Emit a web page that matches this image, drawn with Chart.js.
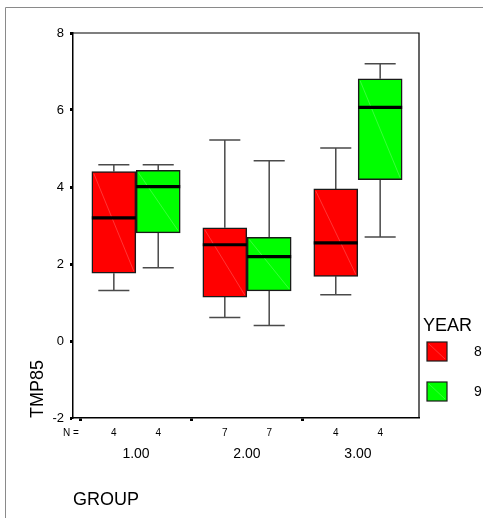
<!DOCTYPE html>
<html>
<head>
<meta charset="utf-8">
<script src="https://cdn.jsdelivr.net/npm/chart.js@4"></script>
<style>
html,body{margin:0;padding:0;background:#fff;}
canvas{display:block;}
</style>
</head>
<body>
<canvas id="c" width="483" height="518"></canvas>
<script>
// ---- data ----
const groups = [1, 2, 3];
const groupLabels = ['1.00', '2.00', '3.00'];
const yearLabels = ['8', '9'];
const yTicks = [-2, 0, 2, 4, 6, 8];

const min8 = [1.31, 0.61, 1.20];
const q1_8 = [1.76, 1.14, 1.68];
const med8 = [3.20, 2.50, 2.55];
const q3_8 = [4.40, 2.94, 3.95];
const max8 = [4.58, 5.22, 5.01];
const n8   = [4, 7, 4];

const min9 = [1.90, 0.40, 2.70];
const q1_9 = [2.81, 1.30, 4.19];
const med9 = [4.01, 2.19, 6.07];
const q3_9 = [4.43, 2.69, 6.81];
const max9 = [4.58, 4.68, 7.20];
const n9   = [4, 7, 4];

const OFF = 0.2;      // box offset from group centre (x units)
const CAP = 0.14;     // whisker cap half width (x units)
const FONT = "'Liberation Sans', Arial, sans-serif";

const series = [
  {label: yearLabels[0], color: '#ff0000', diag: 'rgba(255,170,170,0.45)', dx: -OFF, min: min8, q1: q1_8, med: med8, q3: q3_8, max: max8, n: n8},
  {label: yearLabels[1], color: '#00ff00', diag: 'rgba(180,255,180,0.45)', dx: OFF, min: min9, q1: q1_9, med: med9, q3: q3_9, max: max9, n: n9}
];

const datasets = series.map(s => ({
  label: s.label,
  data: groups.map((g, i) => ({x: g + s.dx, y: [s.q1[i], s.q3[i]]})),
  backgroundColor: s.color,
  borderColor: '#1a1a1a',
  borderWidth: 1.5,
  borderSkipped: false,
  barThickness: 44,
  grouped: false
}));

const boxPlugin = {
  id: 'boxParts',
  beforeDatasetsDraw(chart) {
    const ctx = chart.ctx, xs = chart.scales.x, ys = chart.scales.y;
    ctx.save();
    ctx.strokeStyle = '#4a4a4a';
    ctx.lineWidth = 1.5;
    series.forEach(s => {
      groups.forEach((g, i) => {
        const cx = xs.getPixelForValue(g + s.dx);
        const cl = xs.getPixelForValue(g + s.dx - CAP);
        const cr = xs.getPixelForValue(g + s.dx + CAP);
        const yMin = ys.getPixelForValue(s.min[i]);
        const yQ1 = ys.getPixelForValue(s.q1[i]);
        const yQ3 = ys.getPixelForValue(s.q3[i]);
        const yMax = ys.getPixelForValue(s.max[i]);
        ctx.beginPath();
        ctx.moveTo(cx, yQ1); ctx.lineTo(cx, yMin);
        ctx.moveTo(cl, yMin); ctx.lineTo(cr, yMin);
        ctx.moveTo(cx, yQ3); ctx.lineTo(cx, yMax);
        ctx.moveTo(cl, yMax); ctx.lineTo(cr, yMax);
        ctx.stroke();
      });
    });
    ctx.restore();
  },
  afterDatasetsDraw(chart) {
    const ctx = chart.ctx, ys = chart.scales.y;
    const area = chart.chartArea;
    ctx.save();
    series.forEach((s, si) => {
      const meta = chart.getDatasetMeta(si);
      meta.data.forEach((bar, i) => {
        const p = bar.getProps(['x', 'y', 'base', 'width'], true);
        const l = p.x - p.width / 2, r = p.x + p.width / 2;
        const t = Math.min(p.y, p.base), b = Math.max(p.y, p.base);
        ctx.strokeStyle = s.diag;
        ctx.lineWidth = 0.7;
        ctx.beginPath();
        ctx.moveTo(l + 2, t + 2); ctx.lineTo(r - 2, b - 2);
        ctx.stroke();
        const ym = ys.getPixelForValue(s.med[i]);
        ctx.strokeStyle = '#000';
        ctx.lineWidth = 3.2;
        ctx.beginPath();
        ctx.moveTo(l, ym); ctx.lineTo(r, ym);
        ctx.stroke();
      });
    });
    ctx.strokeStyle = '#000';
    ctx.lineWidth = 1.2;
    ctx.beginPath();
    ctx.moveTo(area.left, area.top); ctx.lineTo(area.right, area.top); ctx.lineTo(area.right, area.bottom);
    ctx.stroke();
    ctx.restore();
  },
  afterDraw(chart) {
    const ctx = chart.ctx, xs = chart.scales.x;
    const area = chart.chartArea;
    ctx.save();
    ctx.strokeStyle = '#8a8a8a';
    ctx.lineWidth = 1;
    ctx.beginPath();
    ctx.moveTo(5.5, 518); ctx.lineTo(5.5, 7.5); ctx.lineTo(483, 7.5);
    ctx.stroke();
    ctx.fillStyle = '#000';
    ctx.font = '10px ' + FONT;
    ctx.textBaseline = 'middle';
    ctx.textAlign = 'left';
    const ny = area.bottom + 15;
    ctx.fillText('N =', 63, ny);
    ctx.textAlign = 'center';
    series.forEach(s => {
      groups.forEach((g, i) => {
        ctx.fillText(String(s.n[i]), xs.getPixelForValue(g + s.dx), ny);
      });
    });
    ctx.textAlign = 'left';
    ctx.font = '18px ' + FONT;
    ctx.fillText('YEAR', 423, 326);
    series.forEach((s, si) => {
      const top = 342 + si * 40;
      ctx.fillStyle = s.color;
      ctx.fillRect(427, top, 20, 19);
      ctx.strokeStyle = s.diag;
      ctx.lineWidth = 0.7;
      ctx.beginPath();
      ctx.moveTo(429, top + 2); ctx.lineTo(445, top + 17);
      ctx.stroke();
      ctx.strokeStyle = '#1a1a1a';
      ctx.lineWidth = 1.2;
      ctx.strokeRect(427, top, 20, 19);
      ctx.fillStyle = '#000';
      ctx.font = '14px ' + FONT;
      ctx.fillText(s.label, 474, top + 10);
    });
    ctx.restore();
  }
};

new Chart(document.getElementById('c'), {
  type: 'bar',
  data: {datasets},
  options: {
    responsive: false,
    animation: false,
    devicePixelRatio: 1,
    layout: {padding: {left: 0, top: 33, right: 64, bottom: 0}},
    plugins: {legend: {display: false}, tooltip: {enabled: false}},
    scales: {
      x: {
        type: 'linear',
        min: 0.432,
        max: 3.55,
        offset: false,
        afterBuildTicks(scale) { scale.ticks = groups.map(v => ({value: v})); },
        afterFit(scale) { scale.height = 100; },
        grid: {
          drawOnChartArea: false, drawTicks: true, tickLength: 3, tickWidth: 3,
          tickColor: c => (c.tick && groups.includes(c.tick.value)) ? '#000' : 'rgba(0,0,0,0)'
        },
        border: {display: true, color: '#000', width: 1.5},
        ticks: {
          color: '#000',
          font: {family: FONT, size: 14},
          padding: 25,
          maxRotation: 0,
          autoSkip: false,
          callback(v) { const i = groups.indexOf(v); return i >= 0 ? groupLabels[i] : ''; }
        },
        title: {display: true, text: 'GROUP', align: 'start', color: '#000', font: {family: FONT, size: 18}, padding: {top: 0, bottom: 7}}
      },
      y: {
        min: -2,
        max: 8,
        afterBuildTicks(scale) { scale.ticks = yTicks.map(v => ({value: v})); },
        afterFit(scale) { scale.width = 73; },
        grid: {drawOnChartArea: false, drawTicks: true, tickLength: 3, tickWidth: 3, tickColor: '#000'},
        border: {display: true, color: '#000', width: 1.5},
        ticks: {color: '#000', font: {family: FONT, size: 13}, padding: 6},
        title: {display: true, text: 'TMP85', align: 'start', color: '#000', font: {family: FONT, size: 18}, padding: {top: 27, bottom: 0}}
      }
    }
  },
  plugins: [boxPlugin]
});
</script>
</body>
</html>
